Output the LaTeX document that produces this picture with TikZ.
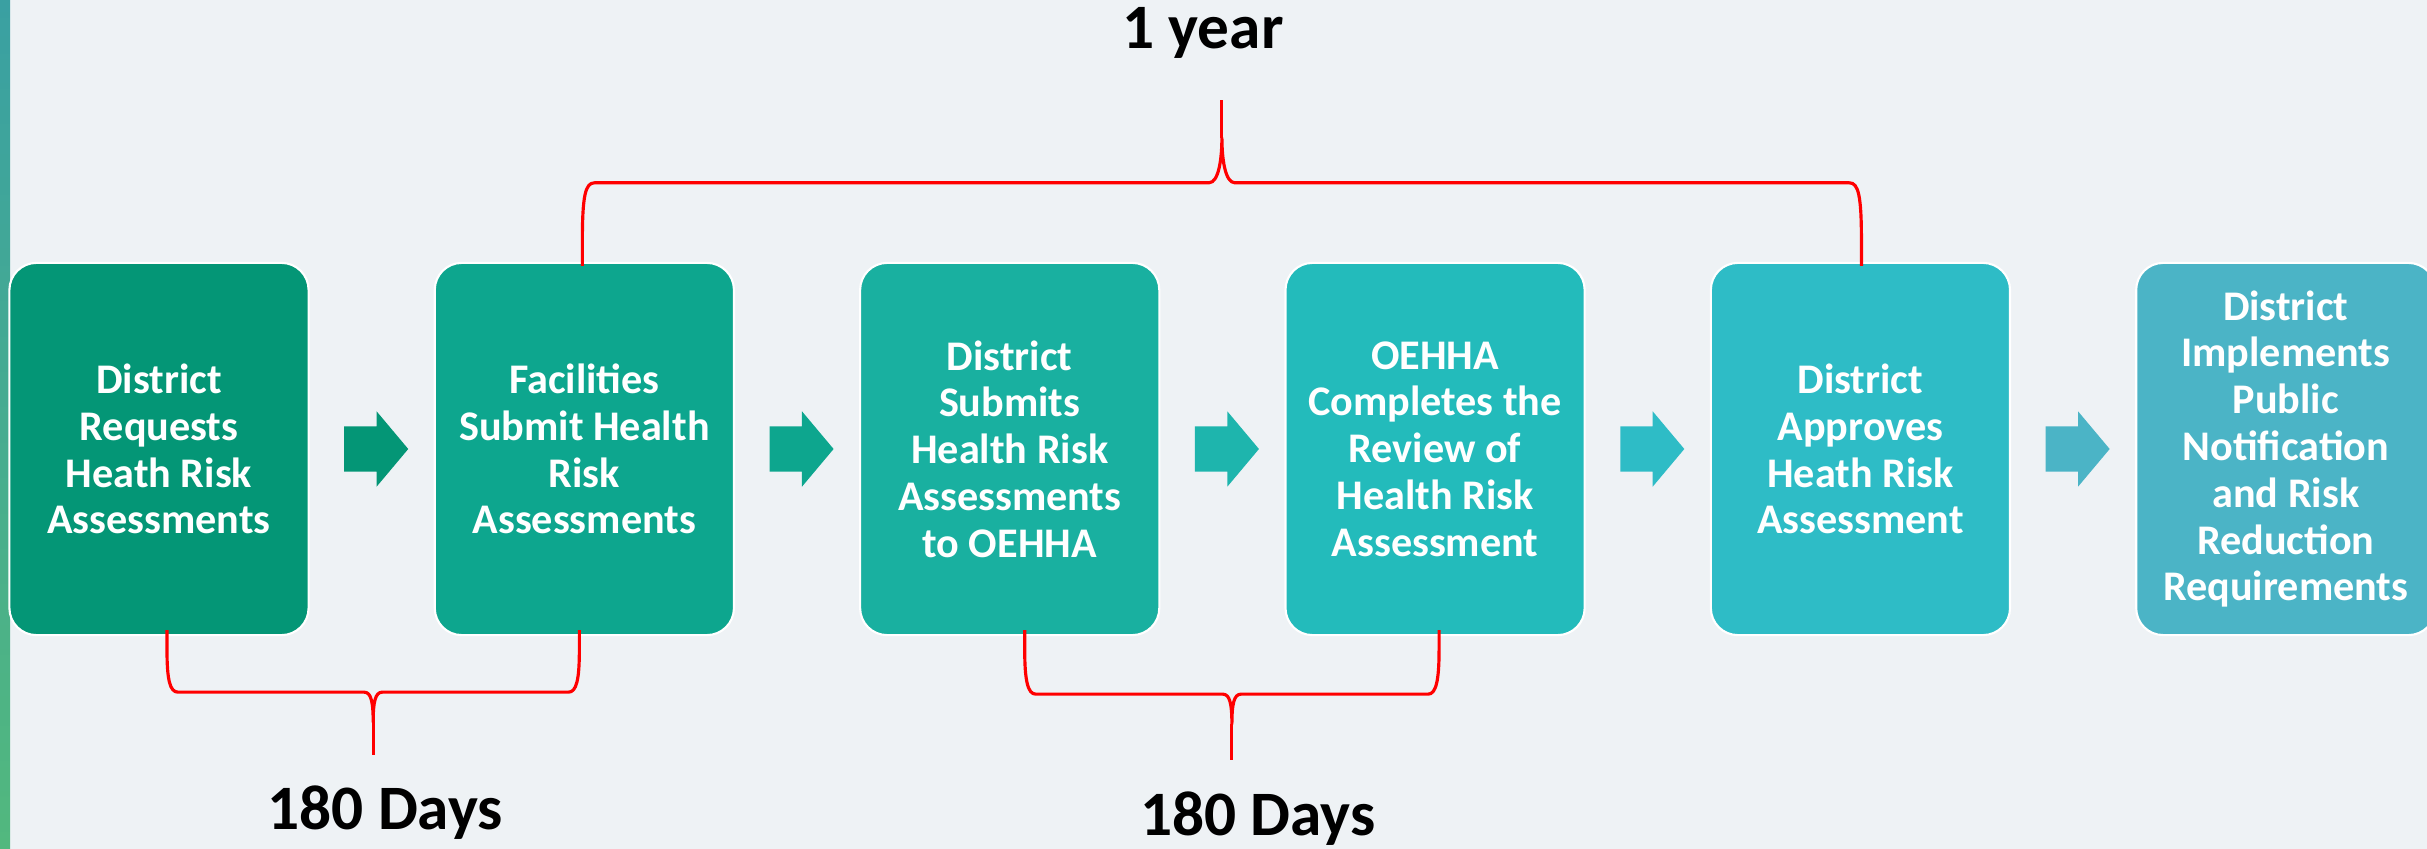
\documentclass[tikz,border=0pt]{standalone}
\usepackage{fontspec}
\setmainfont{Carlito}
\usetikzlibrary{positioning,calc,shapes.arrows}

\definecolor{bg}{RGB}{238,242,245}
\definecolor{stepA}{RGB}{4,150,118}
\definecolor{stepB}{RGB}{13,166,142}
\definecolor{stepC}{RGB}{25,176,160}
\definecolor{stepD}{RGB}{35,187,187}
\definecolor{stepE}{RGB}{46,188,198}
\definecolor{stepF}{RGB}{75,180,198}
\definecolor{stripT}{RGB}{58,160,162}
\definecolor{stripB}{RGB}{82,184,126}

\tikzstyle{stepbox} = [rectangle,rounded corners=0.27cm,draw=white,line width=0.6pt,minimum width=2.99cm,minimum height=3.72cm,text=white,align=center,inner sep=0pt,font=\fontsize{12}{13.3}\selectfont\bfseries]
\tikzstyle{blockarrow} = [single arrow,minimum height=0.64cm,minimum width=0.74cm,single arrow head extend=0.15cm,single arrow tip angle=100,inner xsep=0pt,inner ysep=0.22cm]
\tikzstyle{brace} = [red,line width=0.9pt,line join=round]
\tikzstyle{span} = [anchor=base,inner sep=0pt,font=\fontsize{18}{21}\selectfont\bfseries]

\begin{document}
\begin{tikzpicture}[x=0.01cm,y=-0.01cm]

 \fill[bg] (0,0) rectangle (2427,849);
 \useasboundingbox (0,0) rectangle (2427,849);
 \clip (0,0) rectangle (2427,849);
 \shade[top color=stripT,bottom color=stripB] (0,0) rectangle (10,849);

 % steps
 \node [stepbox,fill=stepA] (b1) at (159,449) {District\\Requests\\Heath Risk\\Assessments};
 \node [stepbox,fill=stepB,right=1.24cm of b1] (b2) {Facilities\\Submit Health\\Risk\\Assessments};
 \node [stepbox,fill=stepC,right=1.24cm of b2] (b3) {District\\Submits\\Health Risk\\Assessments\\to OEHHA};
 \node [stepbox,fill=stepD,right=1.24cm of b3] (b4) {OEHHA\\Completes the\\Review of\\Health Risk\\Assessment};
 \node [stepbox,fill=stepE,right=1.24cm of b4] (b5) {District\\Approves\\Heath Risk\\Assessment};
 \node [stepbox,fill=stepF,right=1.24cm of b5] (b6) {District\\Implements\\Public\\Notification\\and Risk\\Reduction\\Requirements};

 \node [blockarrow,fill=stepA] (ar1) at ($(b1.east)!0.5!(b2.west)+(-5,0)$) {};
 \node [blockarrow,fill=stepB] (ar2) at ($(b2.east)!0.5!(b3.west)+(-5,0)$) {};
 \node [blockarrow,fill=stepC!50!stepD] (ar3) at ($(b3.east)!0.5!(b4.west)+(-5,0)$) {};
 \node [blockarrow,fill=stepE] (ar4) at ($(b4.east)!0.5!(b5.west)+(-5,0)$) {};
 \node [blockarrow,fill=stepF] (ar5) at ($(b5.east)!0.5!(b6.west)+(-5,0)$) {};

 % first 180 days
 \coordinate (s1) at ($(b1.south)+(8,-6)$);
 \coordinate (e1) at ($(b2.south)+(-5,-6)$);
 \coordinate (m1) at ($(s1)!0.5!(e1)+(0,62)$);
 \draw[brace] (s1) -- ++(0,20) .. controls +(0,30) and +(-8,0) .. ++(11,42) -- ($(m1)+(-9,0)$) .. controls +(7,0) and +(0,-20) .. ($(m1)+(0,30)$) .. controls +(0,-20) and +(-7,0) .. ($(m1)+(9,0)$) -- ($(e1|-m1)+(-11,0)$) .. controls +(8,0) and +(0,30) .. ($(e1)+(0,20)$) -- (e1);
 \draw[brace] ($(m1)+(0,30)$) -- ++(0,33) coordinate (t1);
 \node [span] (d1) at ($(t1)+(12,74)$) {180 Days};

 % second 180 days
 \coordinate (s2) at ($(b3.south)+(15,-6)$);
 \coordinate (e2) at ($(b4.south)+(4,-6)$);
 \coordinate (m2) at ($(s2)!0.5!(e2)+(0,64)$);
 \draw[brace] (s2) -- ++(0,20) .. controls +(0,30) and +(-8,0) .. ++(11,44) -- ($(m2)+(-9,0)$) .. controls +(7,0) and +(0,-20) .. ($(m2)+(0,30)$) .. controls +(0,-20) and +(-7,0) .. ($(m2)+(9,0)$) -- ($(e2|-m2)+(-11,0)$) .. controls +(8,0) and +(0,30) .. ($(e2)+(0,20)$) -- (e2);
 \draw[brace] ($(m2)+(0,30)$) -- ++(0,36) coordinate (t2);
 \node [span] (d2) at ($(t2)+(26,75)$) {180 Days};

 % 1 year
 \coordinate (s3) at ($(b2.north)+(-2,4)$);
 \coordinate (e3) at ($(b5.north)+(1,4)$);
 \coordinate (m3) at ($(s3)!0.5!(e3)+(0,-83)$);
 \draw[brace] (s3) -- ++(0,-25) .. controls +(0,-45) and +(-9,0) .. ++(12,-58) -- ($(m3)+(-13,0)$) .. controls +(10,0) and +(0,20) .. ($(m3)+(0,-45)$) .. controls +(0,20) and +(-10,0) .. ($(m3)+(13,0)$) -- ($(e3|-m3)+(-12,0)$) .. controls +(9,0) and +(0,-45) .. ($(e3)+(0,-25)$) -- (e3);
 \draw[brace] ($(m3)+(0,-45)$) -- ++(0,-38) coordinate (t3);
 \node [span] (yr) at ($(t3)+(-19,-51)$) {1 year};

\end{tikzpicture}
\end{document}
